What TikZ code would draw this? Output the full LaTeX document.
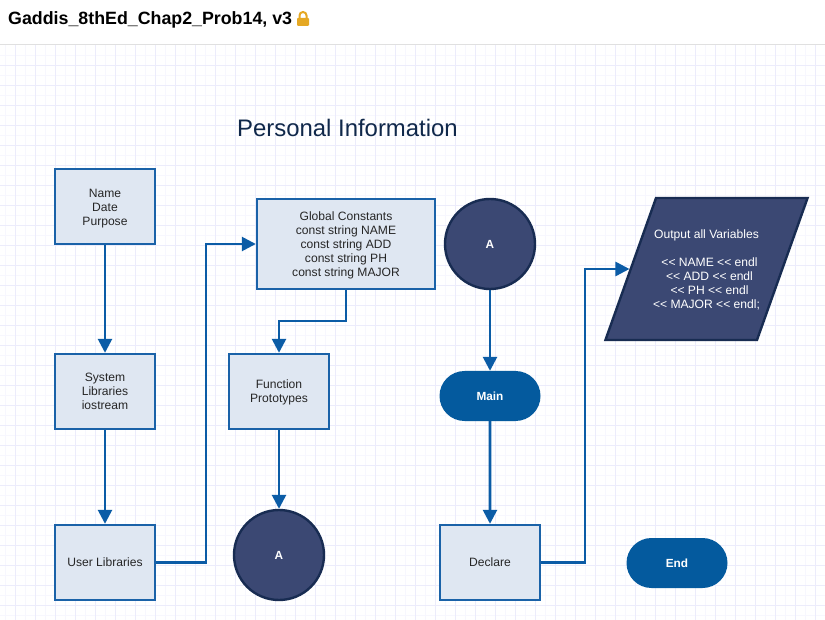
\documentclass[tikz,border=0pt]{standalone}
\usepackage{fontspec}
\setmainfont{Liberation Sans}
\usetikzlibrary{arrows.meta, positioning, shapes.geometric, shapes.misc}
\definecolor{boxfill}{HTML}{DFE7F2}
\definecolor{boxline}{HTML}{1A62A8}
\definecolor{flowblue}{HTML}{0B5CA6}
\definecolor{darkfill}{HTML}{3B4873}
\definecolor{darkline}{HTML}{182C52}
\definecolor{pillfill}{HTML}{045A9E}
\definecolor{gridmajor}{HTML}{ECECFB}
\definecolor{gridminor}{HTML}{F7F7FE}
\definecolor{titleink}{HTML}{10284A}
\definecolor{lockgold}{HTML}{E5A823}
\newcommand{\lowbit}[1]{\mbox{}\\[#1]}
\tikzset{
	box/.style={draw=boxline, line width=2.4pt, fill=boxfill, align=center, text=black!85,
		font=\fontsize{12.1}{14}\selectfont, inner sep=0pt, minimum width=100pt, minimum height=75pt},
	ball/.style={circle, draw=darkline, line width=2.4pt, fill=darkfill, text=white,
		font=\fontsize{11.8}{14}\selectfont\bfseries, inner sep=0pt, minimum size=90pt},
	pill/.style={rounded rectangle, fill=pillfill, text=white,
		font=\fontsize{11.8}{14}\selectfont\bfseries, inner sep=0pt, minimum width=101pt, minimum height=50pt},
	flow/.style={draw=flowblue, line width=2.6pt, -{Triangle[length=14pt, width=14pt]}}
}
\begin{document}
\begin{tikzpicture}[x=1pt, y=-1pt]
	\useasboundingbox (0,0) rectangle (825,620);
	
	% ==========================================
	% SHEET: header and grid
	% ==========================================
	\fill[white] (0,0) rectangle (825,620);
	\foreach \x in {5,25,...,825} \draw[gridminor, line width=0.8pt] (\x,45) -- (\x,620);
	\foreach \y in {55,75,...,615} \draw[gridminor, line width=0.8pt] (0,\y) -- (825,\y);
	\foreach \x in {15,35,...,815} \draw[gridmajor, line width=0.9pt] (\x,45) -- (\x,620);
	\foreach \y in {65,85,...,605} \draw[gridmajor, line width=0.9pt] (0,\y) -- (825,\y);
	\fill[black!12] (0,44) rectangle (825,45.2);
	\node[anchor=west, inner sep=0pt, font=\fontsize{17.8}{20}\selectfont\bfseries] (header) at (8,20) {Gaddis\_8thEd\_Chap2\_Prob14, v3};
	
	% the lock
	\draw[lockgold, line width=2pt] (299.5,18) -- (299.5,15.5) arc[start angle=180, end angle=360, radius=3.5] -- (306.5,18);
	\fill[lockgold, rounded corners=1pt] (297,18) rectangle (309,26);
	
	\node[font=\fontsize{23.9}{28}\selectfont, text=titleink, inner sep=0pt] (title) at (347.5,127.5) {Personal Information};
	
	% ==========================================
	% COLUMN 1
	% ==========================================
	\node[box] (purpose) at (105,206.5) {\lowbit{-1.3pt}Name\\Date\\Purpose};
	\node[box] (system) at (105,391.5) {System\\Libraries\\iostream};
	\node[box] (user) at (105,562.5) {User Libraries};
	
	% ==========================================
	% COLUMN 2
	% ==========================================
	\node[box, minimum width=178pt, minimum height=90pt] (globals) at (346,244) {\lowbit{-3.3pt}Global Constants\\const string NAME\\const string ADD\\const string PH\\const string MAJOR};
	\node[box] (proto) at (279,391.5) {\lowbit{-3.3pt}Function\\Prototypes};
	\node[ball] (jumpout) at (279,555) {A};
	
	% ==========================================
	% COLUMN 3
	% ==========================================
	\node[ball] (jumpin) at (490,244) {A};
	\node[pill] (main) at (490,396) {Main};
	\node[box] (declare) at (490,562.5) {Declare};
	
	% ==========================================
	% COLUMN 4
	% ==========================================
	\node[trapezium, trapezium left angle=58.5, trapezium right angle=121.5, trapezium stretches=true,
		draw=darkline, line width=2.4pt, fill=darkfill, text=white, align=center, inner ysep=0pt, inner xsep=-3pt,
		minimum width=197pt, minimum height=142pt, font=\fontsize{12.1}{14}\selectfont] (output) at (706.5,269)
		{\rule{0pt}{11pt}Output all Variables\\[14pt]\,\,\,<{}< NAME <{}< endl\\\,\,\,<{}< ADD <{}< endl\\\,\,\,<{}< PH <{}< endl\\<{}< MAJOR <{}< endl;};
	\node[pill] (finish) at (677,563) {End};
	
	% ==========================================
	% CONNECTORS
	% ==========================================
	\coordinate (busA) at (206,400);
	\coordinate (busB) at (300,321);
	\coordinate (busC) at (585,400);
	
	\draw[flow] (purpose) -- (system);
	\draw[flow] (system) -- (user);
	\draw[flow] (user) -| (busA) |- (globals);
	\draw[flow] (globals) |- (busB) -| (proto);
	\draw[flow] (proto) -- (jumpout);
	\draw[flow] (jumpin) -- (main);
	\draw[flow] (main) -- (declare);
	\draw[flow] (declare) -| (busC) |- (output.west);
\end{tikzpicture}
\end{document}
